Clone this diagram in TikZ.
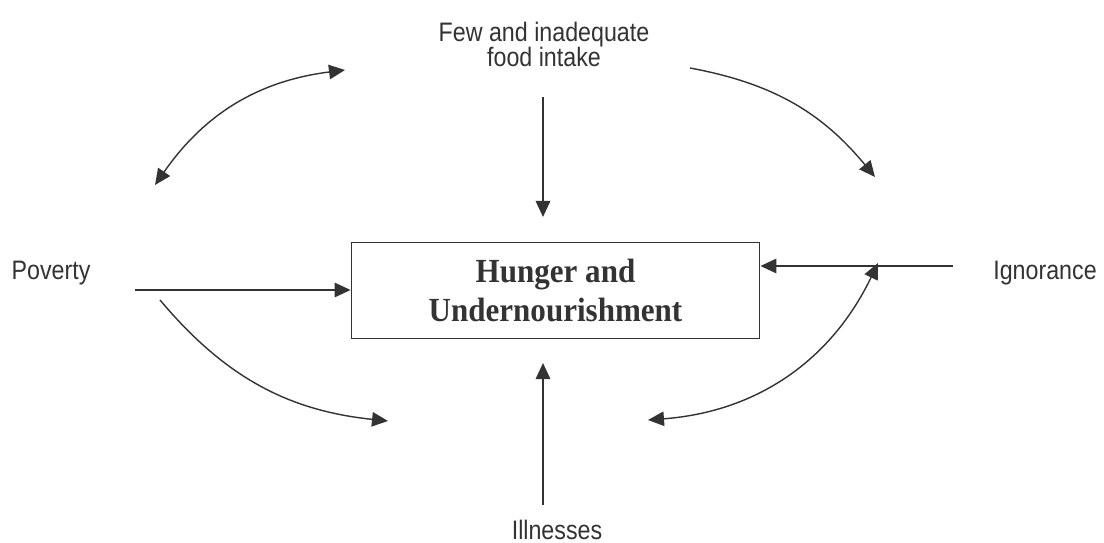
\documentclass[tikz,border=0pt]{standalone}
\usepackage{fontspec}
\setmainfont[FakeStretch=0.87]{Liberation Sans}
\newfontfamily\boxfont[FakeStretch=0.92]{Liberation Serif}
\usetikzlibrary{arrows.meta,positioning}
\definecolor{inkgray}{HTML}{333333}

\begin{document}
\begin{tikzpicture}[x=0.025cm, y=-0.025cm,
    >={Triangle[length=0.4cm,width=0.36cm]},
    cause/.style={font=\fontsize{19}{18}\selectfont, text=inkgray, align=center, inner sep=0pt, anchor=base},
    centre/.style={draw=inkgray, line width=1.2pt, minimum width=10.2cm, minimum height=2.4cm,
        align=center, text=inkgray, font=\boxfont\bfseries\fontsize{24}{27.7}\selectfont},
    link/.style={draw=inkgray, line width=1.3pt, ->},
    swing/.style={draw=inkgray, line width=1pt}]

    \useasboundingbox (0,0) rectangle (1104,543);

    % Define the central box and the four causes
    \node[centre] (hunger) at (555.5,290.5) {Hunger and\\Undernourishment};
    \node[cause] (food) at (544,67) {Few and inadequate\\food intake};
    \node[cause] (poverty) at (51,280) {Poverty};
    \node[cause] (ignorance) at (1045,280) {Ignorance};
    \node[cause] (illness) at (557,539) {Illnesses};

    % Define the free ends of the arrows
    \coordinate (food-out) at (543,97);
    \coordinate (food-in) at (543,217);
    \coordinate (ill-out) at (543,505);
    \coordinate (ill-in) at (543,363);
    \coordinate (pov-out) at (135,290);
    \coordinate (ign-out) at (953,266);

    % Draw the straight arrows into the box
    \draw[link] (food-out) -- (food-in);
    \draw[link] (ill-out) -- (ill-in);
    \draw[link] (pov-out) -- (pov-out -| hunger.west);
    \draw[link] (ign-out) -- (ign-out -| hunger.east);

    % Define the ends of the curved arrows
    \coordinate (tl-a) at (155,185);
    \coordinate (tl-b) at (345,70);
    \coordinate (tr-a) at (690,68);
    \coordinate (tr-b) at (875,177);
    \coordinate (bl-a) at (160,300);
    \coordinate (bl-b) at (388,421);
    \coordinate (br-a) at (878,263);
    \coordinate (br-b) at (648,420);

    % Draw the curved arrows round the box
    \draw[swing, <->] (tl-a) to[bend left=24] (tl-b);
    \draw[swing, ->] (tr-a) to[bend left=20] (tr-b);
    \draw[swing, ->] (bl-a) to[bend right=22] (bl-b);
    \draw[swing, <->] (br-a) to[bend left=30] (br-b);

\end{tikzpicture}
\end{document}
